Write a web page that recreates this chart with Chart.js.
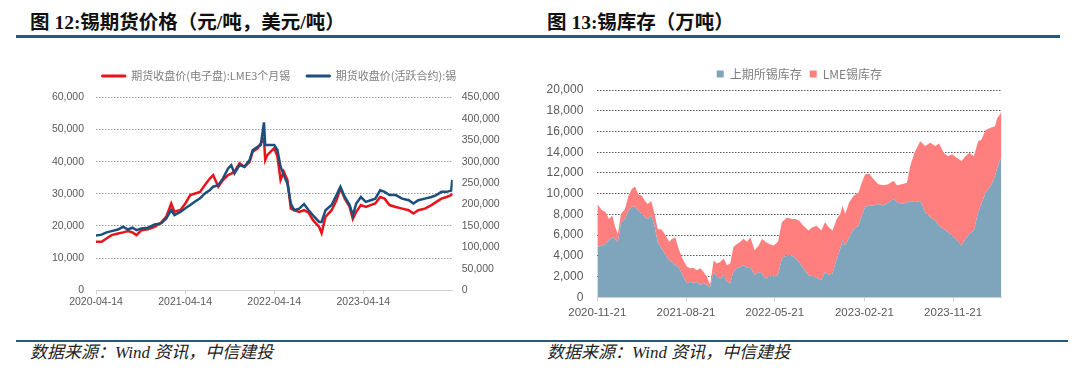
<!DOCTYPE html>
<html><head><meta charset="utf-8">
<script src="https://cdn.jsdelivr.net/npm/chart.js@4.4.1/dist/chart.umd.min.js"></script>
<style>
html,body{margin:0;padding:0;background:#fff;width:1080px;height:371px;overflow:hidden;position:relative;}
.title{position:absolute;top:10px;font-family:'Liberation Serif','Noto Sans CJK SC',serif;font-weight:bold;font-size:19.5px;color:#111;line-height:25px;white-space:nowrap;}
.rule{position:absolute;height:3px;background:#1f5a85;}
.src{position:absolute;top:341px;font-family:'Liberation Serif','Noto Sans CJK SC',serif;font-style:italic;font-size:17px;color:#222;white-space:nowrap;line-height:24px;}
canvas{position:absolute;}
</style></head><body>
<div class="title" style="left:30px">图 12:锡期货价格（元/吨，美元/吨）</div>
<div class="title" style="left:547px">图 13:锡库存（万吨）</div>
<div class="rule" style="left:16px;top:35px;width:1044px"></div>
<div class="rule" style="left:16px;top:340px;width:1052px;height:2px"></div>
<div class="src" style="left:30px">数据来源：Wind 资讯，中信建投</div>
<div class="src" style="left:547px">数据来源：Wind 资讯，中信建投</div>
<canvas id="c1" width="558" height="270" style="left:0;top:50px"></canvas>
<canvas id="c2" width="518" height="280" style="left:540px;top:50px"></canvas>
<script>
// ---------- Figure 12: tin futures prices ----------
const priceDates = ['2020-04-14','2020-05-07','2020-05-27','2020-06-17','2020-07-13','2020-08-03','2020-08-23','2020-09-10','2020-09-27','2020-10-17',
'2020-11-13','2020-12-10','2021-01-06','2021-01-27','2021-02-16','2021-03-01','2021-03-26','2021-04-15','2021-05-05','2021-05-25',
'2021-06-14','2021-07-04','2021-07-25','2021-08-07','2021-08-28','2021-09-16','2021-10-07','2021-10-20','2021-11-02','2021-11-23',
'2021-12-13','2022-01-03','2022-01-16','2022-02-05','2022-02-18','2022-03-03','2022-03-08','2022-03-17','2022-04-06','2022-04-14',
'2022-04-27','2022-05-10','2022-05-23','2022-06-07','2022-06-21','2022-07-05','2022-07-25','2022-08-14','2022-09-02','2022-09-20',
'2022-10-15','2022-10-25','2022-11-10','2022-12-05','2022-12-25','2023-01-10','2023-01-28','2023-02-17','2023-03-02','2023-03-16',
'2023-04-04','2023-04-24','2023-05-14','2023-06-02','2023-06-22','2023-07-10','2023-07-30','2023-08-25','2023-09-20','2023-10-17',
'2023-11-05','2023-11-25','2023-12-22','2024-01-18','2024-02-07','2024-02-28','2024-03-20','2024-04-08','2024-04-12'];
const lmeTin = [15100,15100,16100,17150,17650,18000,18400,18000,17150,18700,
19000,19750,21100,22900,27000,24400,25000,27000,29600,30100,
30600,32700,34800,35800,32200,34300,35800,36300,36900,39500,
38400,39900,43100,44100,45700,47200,40500,42100,43600,44200,
41600,34300,36900,34300,25400,24900,24400,24900,24100,21800,
19700,17800,22800,24900,28000,31700,28500,25900,22200,24400,
26500,25900,26500,27000,29000,28500,26500,25900,25400,24900,
23900,24900,25400,26500,27500,28500,29000,29600,30100];
const shfeTin = [127500,129750,135000,138000,141750,148100,141750,145900,140250,144400,
145900,153750,156000,167250,187500,175500,183000,191250,198750,207000,
214500,225750,234000,241500,245250,261000,284250,291750,272250,291750,
288000,303750,327000,334500,339000,391500,339000,339000,339000,339000,
327000,288000,268500,249000,202500,186750,190500,201000,186750,174750,
159400,159400,186750,198750,222000,241500,217500,198750,174750,202500,
217500,206250,210000,213750,233250,229500,222000,222000,213750,210000,
202500,210000,213750,217500,222000,229500,229500,232500,257250];
const priceTickLabels = ['2020-04-14','2021-04-14','2022-04-14','2023-04-14'];
const priceEnd = '2024-04-14';
const priceSeriesNames = ['期货收盘价(电子盘):LME3个月锡','期货收盘价(活跃合约):锡'];

// ---------- Figure 13: tin inventories ----------
const stockDates = ['2020-11-21','2020-12-04','2020-12-17','2020-12-27','2021-01-06','2021-01-14','2021-01-23','2021-02-02','2021-02-14','2021-02-25',
'2021-03-07','2021-03-17','2021-03-27','2021-04-07','2021-04-17','2021-04-25','2021-05-06','2021-05-16','2021-05-26','2021-06-07',
'2021-06-20','2021-06-30','2021-07-10','2021-07-19','2021-07-29','2021-08-10','2021-08-24','2021-09-03','2021-09-13','2021-09-23',
'2021-10-04','2021-10-14','2021-10-24','2021-11-03','2021-11-14','2021-11-24','2021-12-04','2021-12-15','2021-12-25','2022-01-04',
'2022-01-14','2022-01-25','2022-02-04','2022-02-14','2022-02-25','2022-03-07','2022-03-20','2022-04-02','2022-04-12','2022-04-22',
'2022-05-04','2022-05-18','2022-05-31','2022-06-12','2022-06-28','2022-07-13',
'2022-07-23','2022-08-04','2022-08-17','2022-09-02','2022-09-14','2022-09-27','2022-10-11','2022-10-23','2022-11-03','2022-11-15',
'2022-11-28','2022-12-09','2022-12-16','2022-12-24','2023-01-05','2023-01-19','2023-02-03','2023-02-13','2023-02-23','2023-03-08',
'2023-03-21','2023-04-05','2023-04-21','2023-05-06','2023-05-22','2023-06-01','2023-06-16','2023-07-02','2023-07-12','2023-07-25',
'2023-08-12','2023-08-27','2023-09-12','2023-09-27','2023-10-09','2023-10-23','2023-11-05','2023-11-18','2023-12-03','2023-12-17',
'2023-12-29','2024-01-10','2024-01-24','2024-02-06','2024-02-16','2024-02-29','2024-03-16','2024-03-29','2024-04-05','2024-04-12','2024-04-18'];
const shfeStock = [4850,5000,5150,5500,5800,5650,5300,7250,7550,8350,
8700,8750,8350,8050,7700,7550,7900,6900,5300,4700,
4050,3550,3400,3100,2950,2150,1350,1500,1350,1500,
1200,1350,1200,950,2450,2000,1800,2150,1500,1350,
2450,2800,2950,3100,2850,2950,2150,2450,2300,1800,
2000,2000,2150,3750,4050,4000,
3800,3400,2800,2150,2000,1900,1650,2450,2150,2300,
3750,4700,5500,5000,5800,6600,6900,7900,8700,8850,
8850,9000,8850,9150,9500,9200,9000,9150,9300,9200,
9300,8200,7700,7400,6900,6600,6300,5950,5500,5000,
5650,6100,6450,8200,9000,10100,10750,11700,12500,13150,13450];
const lmeStock = [4150,3450,3050,2050,2100,1250,800,800,950,1450,
1750,1950,1600,1750,1600,1450,1400,1150,1300,1850,
1900,1800,2250,2700,1750,1600,1600,1300,1500,1100,
1600,1100,800,250,1100,1250,1600,1600,1600,1900,
2400,2350,2400,2550,2500,2850,2400,2550,3350,3550,
3150,3000,3200,3500,3650,3550,
3750,4000,4100,4300,4750,5000,4800,4800,4600,4150,
3800,3350,3350,3050,3350,3200,3200,3150,3150,3100,
2550,1900,1950,1750,1750,1600,1900,1900,3350,4750,
5750,6400,7200,7200,7950,7350,7300,7850,7950,8150,
7950,7850,7150,6850,6200,6050,5600,4800,4800,4450,4500];
const stockTickLabels = ['2020-11-21','2021-08-21','2022-05-21','2023-02-21','2023-11-21'];
const stockEnd = '2024-04-18';
const stockSeriesNames = ['上期所锡库存','LME锡库存'];

// ---------- helpers ----------
const DAY = 864e5;
const toDay = s => Date.UTC(+s.slice(0,4), +s.slice(5,7)-1, +s.slice(8,10)) / DAY;
const fmt = v => Number(v).toLocaleString('en-US');
const AX = "'Liberation Sans', Arial, sans-serif";
const CJK = "'Noto Sans CJK SC', sans-serif";
Chart.defaults.animation = false;

function dateAxis(labels, endLabel, fontSize, pad, height) {
  const map = {};
  labels.forEach(l => { map[toDay(l)] = l; });
  return {
    type: 'linear', position: 'bottom',
    min: toDay(labels[0]), max: toDay(endLabel),
    afterBuildTicks: s => { s.ticks = labels.map(l => ({ value: toDay(l) })); },
    afterFit: s => { s.height = height; },
    ticks: { autoSkip: false, maxRotation: 0, minRotation: 0, padding: pad,
      callback: v => map[v] !== undefined ? map[v] : '',
      font: { family: AX, size: fontSize }, color: '#595959' },
    grid: { drawOnChartArea: false, drawTicks: true, tickLength: 4, color: '#d0d0d0' },
    border: { display: true, color: '#d0d0d0' }
  };
}
const pts = (dates, vals) => dates.map((d, i) => ({ x: toDay(d), y: vals[i] }));

// ---------- chart 1 ----------
new Chart(document.getElementById('c1'), {
  type: 'line',
  data: { datasets: [
    { label: priceSeriesNames[0], data: pts(priceDates, lmeTin), yAxisID: 'y',
      borderColor: '#e8141c', backgroundColor: '#e8141c', borderWidth: 2.5, pointRadius: 0, tension: 0, order: 2 },
    { label: priceSeriesNames[1], data: pts(priceDates, shfeTin), yAxisID: 'y1',
      borderColor: '#1b4f7c', backgroundColor: '#1b4f7c', borderWidth: 2.5, pointRadius: 0, tension: 0, order: 1 }
  ]},
  options: {
    responsive: false, devicePixelRatio: 1, animation: false,
    layout: { padding: { top: 4.5, left: 0, right: 0, bottom: 0 } },
    plugins: {
      tooltip: { enabled: false },
      subtitle: { display: true, text: '', weight: 500, position: 'top',
        padding: 0, font: { size: 5.8, lineHeight: 1 } },
      legend: { position: 'top', align: 'center',
        labels: { boxWidth: 24, boxHeight: 2, padding: 16, color: '#7f7f7f',
          font: { family: CJK, size: 11 },
          sort: (a, b) => a.datasetIndex - b.datasetIndex,
          generateLabels: ch => Chart.defaults.plugins.legend.labels.generateLabels(ch).map(l => Object.assign(l, { lineWidth: 1 })) } }
    },
    scales: {
      x: dateAxis(priceTickLabels, priceEnd, 10.5, 2, 29.7),
      y: { position: 'left', min: 0, max: 60000,
        afterFit: s => { s.width = 96; },
        ticks: { stepSize: 10000, padding: 12, callback: fmt, font: { family: AX, size: 10.5 }, color: '#595959' },
        grid: { color: '#a0a0a0', drawTicks: false, lineWidth: 1 },
        border: { display: false, dash: [1.5, 1.5] } },
      y1: { position: 'right', min: 0, max: 450000,
        afterFit: s => { s.width = 558 - 452.7; },
        ticks: { stepSize: 50000, padding: 9, callback: fmt, font: { family: AX, size: 10.5 }, color: '#595959' },
        grid: { display: false, drawTicks: false },
        border: { display: false } }
    }
  }
});

// ---------- chart 2 ----------
new Chart(document.getElementById('c2'), {
  type: 'line',
  data: { datasets: [
    { label: stockSeriesNames[0], data: pts(stockDates, shfeStock), fill: 'origin',
      backgroundColor: '#7fa5bd', borderColor: '#7fa5bd', borderWidth: 0, pointRadius: 0, tension: 0 },
    { label: stockSeriesNames[1], data: pts(stockDates, lmeStock), fill: '-1',
      backgroundColor: '#ff7f7f', borderColor: '#ff7f7f', borderWidth: 0, pointRadius: 0, tension: 0 }
  ]},
  options: {
    responsive: false, devicePixelRatio: 1, animation: false,
    layout: { padding: { top: 10, left: 0, right: 56.5, bottom: 0 } },
    plugins: {
      tooltip: { enabled: false },
      legend: { position: 'top', align: 'center', fullSize: false,
        labels: { boxWidth: 7, boxHeight: 7, padding: 8, color: '#7f7f7f', font: { family: CJK, size: 12 } } }
    },
    scales: {
      x: dateAxis(stockTickLabels, stockEnd, 11.5, 5, 32.7),
      y: { stacked: true, position: 'left', min: 0, max: 20000,
        afterFit: s => { s.width = 57.3; },
        ticks: { stepSize: 2000, padding: 14, callback: fmt, font: { family: AX, size: 12 }, color: '#595959' },
        grid: { color: '#555555', drawTicks: false, lineWidth: 1 },
        border: { display: false, dash: [1.5, 1.5] } }
    }
  }
});
</script>
</body></html>
